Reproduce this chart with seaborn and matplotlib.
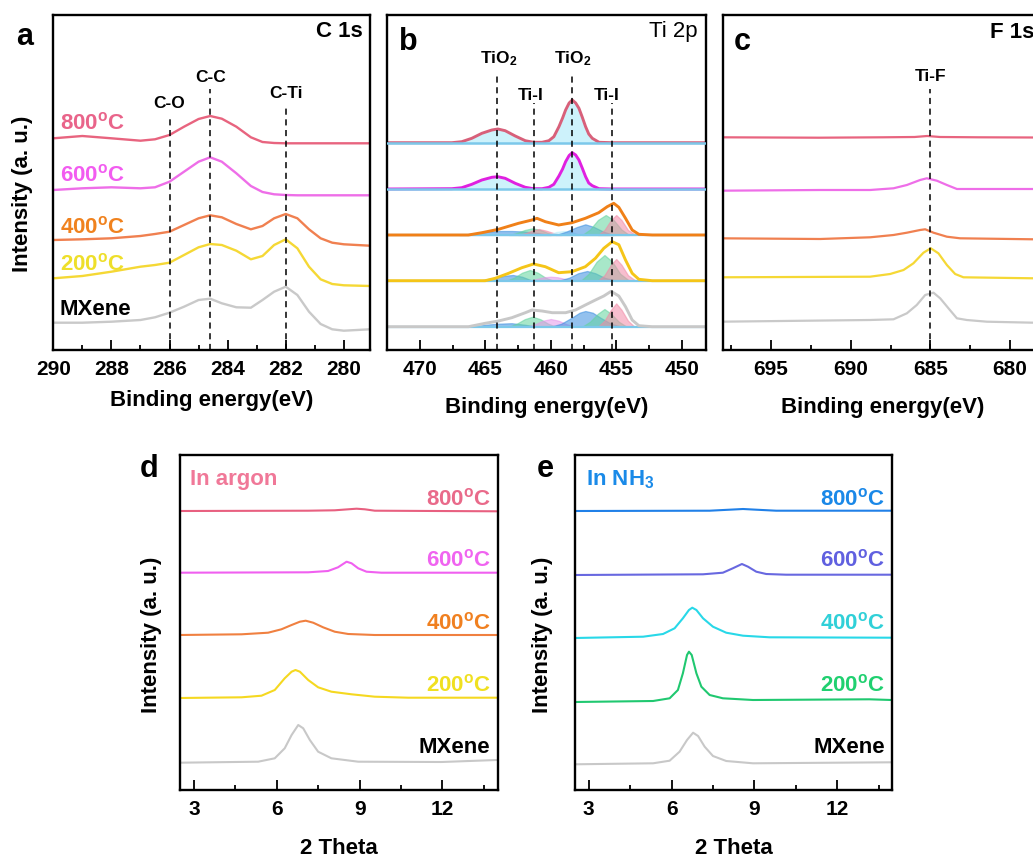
import matplotlib
matplotlib.use('Agg')
import matplotlib.pyplot as plt
import seaborn as sns
from matplotlib.ticker import MultipleLocator

sns.set_style('ticks')
plt.rcParams['font.family'] = ['Liberation Sans', 'DejaVu Sans']
plt.rcParams['font.weight'] = 'bold'
plt.rcParams['text.color'] = 'black'
plt.rcParams['axes.labelcolor'] = 'black'
plt.rcParams['xtick.color'] = 'black'
plt.rcParams['ytick.color'] = 'black'
plt.rcParams['mathtext.fontset'] = 'custom'
plt.rcParams['mathtext.rm'] = 'Liberation Sans'
plt.rcParams['mathtext.bf'] = 'Liberation Sans:bold'
plt.rcParams['mathtext.it'] = 'Liberation Sans:italic'

# ---------------- data: panel a (C 1s) ----------------
A_E = [290, 289, 288, 287, 286.5, 286, 285.5, 285, 284.6, 284.2, 283.7, 283.2, 282.8,
       282.4, 282, 281.6, 281.2, 280.8, 280.4, 280, 279.1]
A_800 = [211.7, 214, 211.7, 209.3, 210.7, 215, 223.3, 231, 234, 231.3, 223.3, 212.7, 208,
         207, 206.7, 206.7, 206.7, 206.7, 206.7, 206.7, 206.7]
A_600 = [160, 161.7, 162.7, 161.7, 162.7, 168.3, 178.3, 188.3, 192.7, 188.3, 176.7, 164, 158,
         155.7, 155, 154.7, 154.7, 154.7, 154.7, 154.7, 154.7]
A_400 = [110, 110.7, 111.7, 114, 116, 118.3, 125, 131.7, 134.7, 132.7, 126, 120.7, 124,
         131.7, 136, 131.7, 120.7, 111.7, 107.3, 105.7, 104.3]
A_200 = [71.7, 74, 78.3, 83.3, 85, 87.3, 95, 102.7, 106, 105, 99.3, 90.7, 94,
         105, 110.7, 101.7, 83.3, 70.7, 66, 64.7, 64]
A_MX = [27.3, 27.3, 28.3, 30, 32.7, 37.3, 43.3, 50, 51.3, 46.7, 42.7, 42.3, 50,
        58.3, 63.3, 55, 38.3, 26, 20.7, 19.3, 20.7]
A_PEAKS = [286.0, 284.6, 282.0]
A_PEAK_TOP = [232.7, 260.7, 243.3]
A_PEAK_LAB = ['C-O', 'C-C', 'C-Ti']
A_PEAK_LAB_Y = [241.7, 267.7, 252.3]

# ---------------- data: panel b (Ti 2p) ----------------
B_TOP_E = [472.43, 467.57, 466.81, 466.04, 465.27, 464.51, 464.05, 463.49, 462.72, 461.95,
           461.32, 460.67, 460.15, 459.77, 459.38, 459.1, 458.87, 458.6, 458.36, 458.1,
           457.85, 457.6, 457.34, 457.1, 456.83, 456.31, 455.3, 448.16]
B_800 = [207.3, 207.3, 208.3, 211.7, 216.7, 220, 221, 219.3, 214, 209.3,
         207.7, 207.7, 209.3, 213.3, 223.3, 232, 240, 247, 250, 247,
         241.7, 233, 223.3, 216, 211.7, 207.7, 207.3, 207.3]
B_600 = [161, 161.3, 162.3, 165.7, 170, 172.7, 173.3, 171.7, 166.7, 162.7,
         161.3, 161.3, 162.7, 165.7, 174, 181, 188.3, 194.5, 197.3, 195,
         190, 182, 173.3, 167, 164.3, 161.3, 161, 161]
B_400_E = [472.43, 466.30, 465.27, 464.0, 462.47, 461.44, 461.06, 460.42, 459.40, 458.38,
           457.36, 456.34, 455.69, 455.19, 454.80, 454.29, 453.78, 453.27, 452.25, 448.16]
B_400 = [115, 115, 117.3, 120.7, 126.7, 130, 131.7, 128.3, 125, 127.3,
         131.7, 137.3, 143.3, 146.7, 142.7, 131.7, 120, 115.7, 115, 115]
B_200_E = [472.43, 465.02, 464.25, 463.23, 462.21, 461.32, 460.42, 459.40, 458.38, 457.36,
           456.59, 455.95, 455.31, 454.80, 454.29, 453.78, 453.27, 452.25, 448.16]
B_200 = [69.3, 69.3, 71.7, 76.7, 82.3, 86, 83.3, 77.3, 78.3, 83.3,
         91.7, 101.7, 108.3, 105.3, 90, 76.7, 70.7, 69.3, 69.3]
B_MX_E = [472.43, 466.30, 465.02, 464.0, 462.98, 461.95, 461.44, 460.67, 459.89, 458.87,
          458.11, 457.36, 456.59, 455.95, 455.39, 454.80, 454.29, 453.78, 453.27, 452.25, 448.16]
B_MX = [23.3, 23.3, 26.7, 29, 32.3, 37.3, 40, 39, 37.3, 37.3,
        40, 45, 50, 54, 58.7, 54, 43.3, 30, 24.3, 23.3, 23.3]
B_BASE = [207.3, 161, 115, 69.3, 23.3]

# fitted components (energy, height above baseline)
C400_blue_s_E = [467.0, 466.0, 465.0, 464.0, 463.0, 462.0, 461.0, 460.0]
C400_blue_s_H = [0, 1.5, 3, 4, 4, 3.5, 2, 0]
C400_green_s_E = [463.2, 462.6, 462.0, 461.4, 460.8, 460.2, 459.6]
C400_green_s_H = [0, 2, 5, 6.7, 5, 2, 0]
C400_pink_s_E = [462.5, 461.9, 461.4, 460.9, 460.4, 459.8, 459.2]
C400_pink_s_H = [0, 2, 4.5, 6, 4.5, 2, 0]
C400_cyan_E = [460.2, 459.6, 459.0, 458.4, 457.8]
C400_cyan_H = [0, 3, 4, 3, 0]
C400_blue_E = [459.6, 458.8, 458.0, 457.36, 456.7, 456.0, 455.2]
C400_blue_H = [0, 3.5, 8, 10.7, 8, 3.5, 0]
C400_green_E = [457.6, 457.0, 456.4, 455.8, 455.2, 454.6, 454.0]
C400_green_H = [0, 5.5, 15, 20, 15, 5.5, 0]
C400_pink_E = [456.4, 455.9, 455.4, 455.0, 454.6, 454.1, 453.5]
C400_pink_H = [0, 5, 15, 20, 15, 5, 0]

C200_blue_s_E = [465.5, 464.5, 463.5, 462.9, 462.2, 461.4]
C200_blue_s_H = [0, 2.5, 5, 5.7, 4, 0]
C200_green_s_E = [463.4, 462.8, 462.2, 461.6, 461.0, 460.4, 459.8]
C200_green_s_H = [0, 3, 8, 10.7, 8, 3, 0]
C200_pink_s_E = [461.6, 461.0, 460.5, 460.0, 459.5, 459.0, 458.4]
C200_pink_s_H = [0, 2, 3.5, 4, 3.5, 2, 0]
C200_blue_E = [459.4, 458.6, 457.9, 457.23, 456.6, 455.9, 455.0]
C200_blue_H = [0, 3, 7.5, 9.7, 7.5, 3, 0]
C200_green_E = [457.7, 457.1, 456.5, 455.9, 455.3, 454.7, 454.0]
C200_green_H = [0, 7, 19, 25.7, 19, 7, 0]
C200_pink_E = [456.4, 455.9, 455.4, 455.0, 454.6, 454.1, 453.5]
C200_pink_H = [0, 5.5, 16, 21.7, 16, 5.5, 0]

CMX_blue_s_E = [466.0, 465.0, 464.0, 463.0, 462.0, 461.0]
CMX_blue_s_H = [0, 2, 3, 3.5, 2, 0]
CMX_green_s_E = [463.2, 462.6, 462.0, 461.4, 460.8, 460.2, 459.6]
CMX_green_s_H = [0, 3, 7.5, 10, 7.5, 3, 0]
CMX_pink_s_E = [461.8, 461.2, 460.6, 460.0, 459.4, 458.8, 458.2]
CMX_pink_s_H = [0, 2.5, 6, 7.7, 6, 2.5, 0]
CMX_blue_E = [460.0, 459.2, 458.4, 457.8, 457.36, 456.8, 456.2, 455.4, 454.6]
CMX_blue_H = [0, 3, 9, 14, 15.7, 14, 9, 3, 0]
CMX_green_E = [457.6, 457.0, 456.4, 455.9, 455.4, 454.8, 454.2]
CMX_green_H = [0, 5, 13, 17.7, 13, 5, 0]
CMX_pink_E = [456.4, 455.9, 455.4, 455.0, 454.6, 454.1, 453.6]
CMX_pink_H = [0, 6, 17, 23.3, 17, 6, 0]

B_PEAKS = [464.1, 461.25, 458.35, 455.3]
B_PEAK_TOP = [276, 247, 276, 247]
B_PEAK_LAB = [r'TiO$_\mathbf{2}$', 'Ti-I', r'TiO$_\mathbf{2}$', 'Ti-I']
B_PEAK_LAB_X = [464.0, 461.55, 458.3, 455.7]
B_PEAK_LAB_Y = [286.7, 250, 286.7, 250]

# ---------------- data: panel c (F 1s) ----------------
C_800_E = [698.2, 692, 688, 686, 685.2, 684.4, 682, 678.5]
C_800 = [212.7, 212.3, 212.7, 213, 214, 213, 212.7, 212.5]
C_600_E = [698.2, 691.92, 688.79, 687.32, 686.48, 685.65, 685.23, 684.60, 683.97, 683.34, 681.46, 678.53]
C_600 = [159.3, 160, 160, 161.7, 165, 170, 171.7, 169.3, 165, 161, 161, 161]
C_400_E = [698.2, 691.92, 688.79, 687.32, 686.48, 685.65, 685.33, 684.81, 683.97, 683.14, 678.53]
C_400 = [111.7, 111, 112.7, 115, 117.3, 120, 120.7, 117.3, 113.3, 111.7, 110.7]
C_200_E = [698.2, 688.79, 687.53, 686.69, 686.07, 685.44, 684.98, 684.5, 683.97, 683.45, 682.93, 678.53]
C_200 = [72.7, 73.3, 76, 80, 86.7, 97.3, 101.7, 96.7, 85, 76, 72.7, 71.7]
C_MX_E = [698.2, 688.79, 687.32, 686.48, 685.86, 685.33, 684.81, 684.39, 683.87, 683.34, 682.72, 681.46, 678.53]
C_MX = [28.3, 30, 30.7, 36.7, 45, 55, 57.3, 51.7, 41.7, 31.7, 30, 28.3, 27.3]
C_PEAK = 685.0
C_PEAK_TOP = 260.7

# ---------------- data: panel d (XRD, argon) ----------------
D_800_T = [2.49, 7.14, 8.10, 8.59, 8.89, 9.19, 9.55, 13.96]
D_800 = [279, 279.3, 279.7, 280.7, 281.3, 280.7, 279.3, 278.7]
D_600_T = [2.49, 7.14, 7.86, 8.22, 8.53, 8.71, 8.95, 9.25, 9.79, 13.96]
D_600 = [217.3, 217.7, 219, 222.7, 228.3, 226.7, 221.7, 218.3, 217.3, 217.3]
D_400_T = [2.49, 4.73, 5.69, 6.17, 6.54, 6.84, 7.05, 7.32, 7.68, 8.10, 8.59, 9.55, 13.96]
D_400 = [155, 155.7, 157.3, 160.7, 165, 168.3, 169.3, 167.3, 162.7, 158.3, 156, 155, 155]
D_200_T = [2.49, 4.73, 5.45, 5.93, 6.29, 6.54, 6.68, 6.84, 7.14, 7.50, 7.98, 8.71, 9.55, 10.76, 13.96]
D_200 = [92, 92.7, 94.3, 100, 111.7, 118.3, 120, 118.3, 110, 102.7, 98.3, 95.7, 93.3, 92.3, 92.3]
D_MX_T = [2.49, 5.33, 5.93, 6.29, 6.54, 6.78, 6.96, 7.20, 7.50, 7.98, 8.95, 11.96, 13.96]
D_MX = [27.3, 28.3, 31.7, 41.7, 55, 65, 61.7, 50, 38.3, 31.7, 28.3, 28, 30]

# ---------------- data: panel e (XRD, NH3) ----------------
E_800_T = [2.49, 7.38, 8.10, 8.59, 9.07, 9.79, 13.96]
E_800 = [279, 279.3, 280.3, 281, 280.3, 279.3, 279.3]
E_600_T = [2.49, 7.14, 7.86, 8.22, 8.55, 8.77, 9.07, 9.43, 10.15, 13.96]
E_600 = [215, 215.7, 217.3, 221.7, 226, 223.3, 218.3, 216, 215.3, 215.3]
E_400_T = [2.49, 4.97, 5.69, 6.11, 6.41, 6.63, 6.75, 6.90, 7.14, 7.50, 7.98, 8.59, 9.55, 13.96]
E_400 = [152, 153.3, 156, 161.7, 171.7, 180, 182.3, 180, 171.7, 163.3, 157.3, 154.3, 152.7, 152.3]
E_200_T = [2.49, 5.33, 5.93, 6.23, 6.41, 6.56, 6.63, 6.73, 6.90, 7.08, 7.38, 7.86, 8.95, 13.17, 13.96]
E_200 = [88, 89, 91.7, 100, 116.7, 135, 138.3, 135, 116.7, 103.3, 95, 91.7, 90, 90.7, 90]
E_MX_T = [2.49, 5.33, 5.93, 6.29, 6.56, 6.78, 6.96, 7.20, 7.50, 7.98, 8.95, 13.96]
E_MX = [25.7, 26.7, 29.3, 38.3, 50, 57.3, 54, 43.3, 34, 29, 26.7, 27.7]

SAMPLES = ['800', '600', '400', '200', 'MXene']
A_LAB_Y = [220.7, 168.3, 116.7, 79.3, 35]
DE_LAB_Y = [285, 224, 160.7, 98.3, 36.7]

COL_A = ['#e8647f', '#ee6ee8', '#f08050', '#f5d835', '#c9c9c9']
TXT_A = ['#e9648a', '#f25cf0', '#f0821e', '#eedf2a', '#000000']
COL_B = ['#d8607a', '#e020e0', '#f08018', '#f5c518', '#c8c8c8']
COL_D = ['#e86080', '#f060f0', '#f08040', '#f5d820', '#c8c8c8']
TXT_D = ['#e96a8a', '#f064f0', '#f08020', '#f0e020', '#000000']
COL_E = ['#2080e8', '#6868e0', '#28d8e8', '#20c870', '#c8c8c8']
TXT_E = ['#1a88e8', '#6060e0', '#30d0d8', '#20d070', '#000000']

# ---------------- figure ----------------
W, H = 1033, 859
fig = plt.figure(figsize=(W / 100, H / 100), dpi=100)


def box(l, r, t, b):
    return [l / W, 1 - b / H, (r - l) / W, (b - t) / H]


axA = fig.add_axes(box(53.3, 370, 15, 350))
axB = fig.add_axes(box(387.3, 705.7, 15, 350))
axC = fig.add_axes(box(723.3, 1042, 15, 350))
axD = fig.add_axes(box(180, 497.7, 455, 790))
axE = fig.add_axes(box(575, 892.3, 455, 790))


def style(ax, xlim, major, minor):
    ax.set_xlim(*xlim)
    ax.set_ylim(0, 335)
    ax.xaxis.set_major_locator(MultipleLocator(major))
    ax.xaxis.set_minor_locator(MultipleLocator(minor))
    ax.tick_params(axis='x', which='major', direction='in', length=7, width=1.3,
                   labelsize=15, pad=7, top=False, colors='black')
    ax.tick_params(axis='x', which='minor', direction='in', length=3.5, width=1.3, top=False)
    ax.set_yticks([])
    for s in ax.spines.values():
        s.set_visible(True)
        s.set_linewidth(1.7)
        s.set_color('black')
    ax.set_xlabel('')
    ax.set_ylabel('')


def line(ax, x, y, c, lw):
    sns.lineplot(x=x, y=y, ax=ax, color=c, linewidth=lw, sort=False, estimator=None)


def temp_label(ax, x, y, t, c, ha):
    txt = t if t == 'MXene' else t + r'$^{\mathrm{o}}$C'
    ax.text(x, y, txt, color=c, ha=ha, va='baseline', fontsize=16, fontweight='bold')


# ---- panel a ----
for ys, c in zip([A_800, A_600, A_400, A_200, A_MX], COL_A):
    line(axA, A_E, ys, c, 1.7)
for e, top, lab, ly in zip(A_PEAKS, A_PEAK_TOP, A_PEAK_LAB, A_PEAK_LAB_Y):
    axA.vlines(e, 0, top, colors='black', linestyles=(0, (4, 3)), linewidth=1.1)
    axA.text(e, ly, lab, ha='center', va='baseline', fontsize=12.5, fontweight='bold')
for s, y, c in zip(SAMPLES, A_LAB_Y, TXT_A):
    temp_label(axA, 289.77, y, s, c, 'left')
style(axA, (290, 279.1), 2, 1)
axA.text(0.977, 0.9355, 'C 1s', transform=axA.transAxes, ha='right', va='baseline',
         fontsize=16, fontweight='bold')

# ---- panel b ----
GREEN, PINK, BLUE, LAV, CYAN = '#62d49e', '#f28aa6', '#3a8ee0', '#e596ea', '#bdeefa'
comps = [
    (B_BASE[2], [(C400_blue_s_E, C400_blue_s_H, BLUE), (C400_green_s_E, C400_green_s_H, GREEN),
                 (C400_pink_s_E, C400_pink_s_H, PINK), (C400_cyan_E, C400_cyan_H, CYAN),
                 (C400_blue_E, C400_blue_H, BLUE), (C400_green_E, C400_green_H, GREEN),
                 (C400_pink_E, C400_pink_H, PINK)]),
    (B_BASE[3], [(C200_blue_s_E, C200_blue_s_H, BLUE), (C200_green_s_E, C200_green_s_H, GREEN),
                 (C200_pink_s_E, C200_pink_s_H, LAV), (C200_blue_E, C200_blue_H, BLUE),
                 (C200_green_E, C200_green_H, GREEN), (C200_pink_E, C200_pink_H, PINK)]),
    (B_BASE[4], [(CMX_blue_s_E, CMX_blue_s_H, BLUE), (CMX_green_s_E, CMX_green_s_H, GREEN),
                 (CMX_pink_s_E, CMX_pink_s_H, LAV), (CMX_blue_E, CMX_blue_H, BLUE),
                 (CMX_green_E, CMX_green_H, GREEN), (CMX_pink_E, CMX_pink_H, PINK)]),
]
for base, lst in comps:
    for ex, hx, col in lst:
        axB.fill_between(ex, [base] * len(ex), [base + h for h in hx], color=col,
                         alpha=0.55, linewidth=0.9, edgecolor=col)
    axB.axhline(base, color='#7cc8ea', linewidth=1.6, zorder=1.5)

for ys, base, c in zip([B_800, B_600], B_BASE[:2], COL_B[:2]):
    axB.fill_between(B_TOP_E, [base] * len(B_TOP_E), ys, color=CYAN, alpha=0.75, linewidth=0)
    line(axB, B_TOP_E, ys, c, 2.1)
    axB.axhline(base, color='#7cc8ea', linewidth=1.8, zorder=3)
line(axB, B_400_E, B_400, COL_B[2], 2.1)
line(axB, B_200_E, B_200, COL_B[3], 2.1)
line(axB, B_MX_E, B_MX, COL_B[4], 2.1)
for e, top, lab, lx, ly in zip(B_PEAKS, B_PEAK_TOP, B_PEAK_LAB, B_PEAK_LAB_X, B_PEAK_LAB_Y):
    axB.vlines(e, 0, top, colors='black', linestyles=(0, (4, 3)), linewidth=1.1, zorder=4)
    axB.text(lx, ly, lab, ha='center', va='baseline', fontsize=12.5, fontweight='bold')
style(axB, (472.5, 448.16), 5, 2.5)
axB.text(0.975, 0.9335, 'Ti 2p', transform=axB.transAxes, ha='right', va='baseline',
         fontsize=16, fontweight='normal')

# ---- panel c ----
for xs, ys, c in zip([C_800_E, C_600_E, C_400_E, C_200_E, C_MX_E],
                     [C_800, C_600, C_400, C_200, C_MX], COL_A):
    line(axC, xs, ys, c, 1.6)
axC.vlines(C_PEAK, 0, C_PEAK_TOP, colors='black', linestyles=(0, (4, 3)), linewidth=1.1)
axC.text(C_PEAK, 269, 'Ti-F', ha='center', va='baseline', fontsize=12.5, fontweight='bold')
style(axC, (698, 678), 5, 2.5)
axC.text(0.975, 0.93, 'F 1s', transform=axC.transAxes, ha='right', va='baseline',
         fontsize=16, fontweight='bold')

# ---- panel d ----
for xs, ys, c in zip([D_800_T, D_600_T, D_400_T, D_200_T, D_MX_T],
                     [D_800, D_600, D_400, D_200, D_MX], COL_D):
    line(axD, xs, ys, c, 1.5)
for s, y, c in zip(SAMPLES, DE_LAB_Y, TXT_D):
    temp_label(axD, 13.74, y, s, c, 'right')
axD.text(2.86, 305, 'In argon', color='#f07898', ha='left', va='baseline', fontsize=16,
         fontweight='bold')
style(axD, (2.5, 14), 3, 1.5)

# ---- panel e ----
for xs, ys, c in zip([E_800_T, E_600_T, E_400_T, E_200_T, E_MX_T],
                     [E_800, E_600, E_400, E_200, E_MX], COL_E):
    line(axE, xs, ys, c, 1.5)
for s, y, c in zip(SAMPLES, DE_LAB_Y, TXT_E):
    temp_label(axE, 13.74, y, s, c, 'right')
axE.text(2.89, 305, r'In NH$_\mathbf{3}$', color='#1a8ae8', ha='left', va='baseline',
         fontsize=16, fontweight='bold')
style(axE, (2.5, 14), 3, 1.5)

# ---- axis labels ----
for ax, yl in [(axA, -0.119), (axB, -0.140), (axC, -0.140)]:
    ax.set_xlabel('Binding energy(eV)', fontsize=16, fontweight='bold', color='black')
    ax.xaxis.set_label_coords(0.5, yl)
for ax in (axD, axE):
    ax.set_xlabel('2 Theta', fontsize=16, fontweight='bold', color='black')
    ax.xaxis.set_label_coords(0.5, -0.143)
for ax, xl, yc in [(axA, -0.064, 0.467), (axD, -0.057, 0.463), (axE, -0.069, 0.463)]:
    ax.set_ylabel('Intensity (a. u.)', fontsize=16, fontweight='bold', color='black')
    ax.yaxis.set_label_coords(xl, yc)

# ---- panel letters ----
for (px, py), let in zip([(25, 45), (408, 50), (742, 50), (149, 476.7), (545, 476.7)],
                         ['a', 'b', 'c', 'd', 'e']):
    fig.text(px / W, 1 - py / H, let, ha='center', va='baseline', fontsize=22, fontweight='bold')

fig.savefig('out.png', dpi=100)
